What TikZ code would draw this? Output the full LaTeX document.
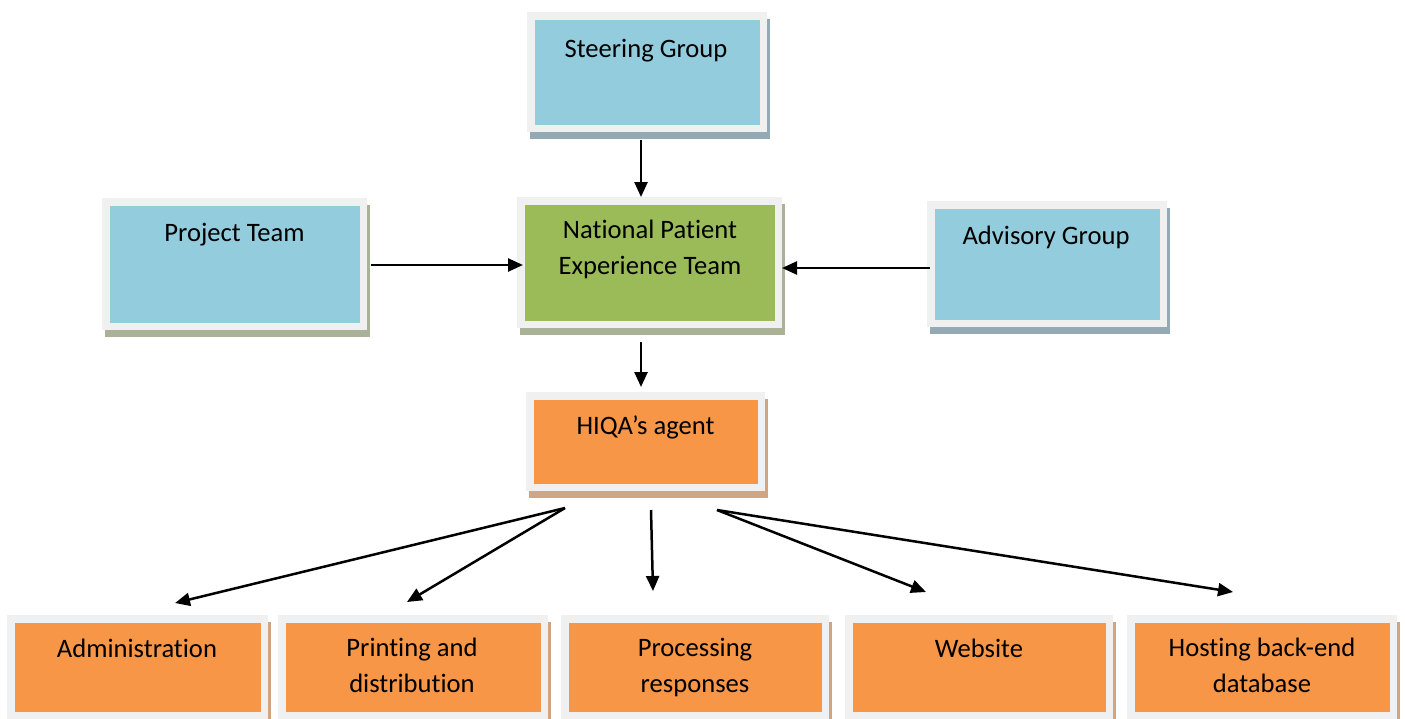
\documentclass[tikz,border=0pt]{standalone}
\usepackage{fontspec}
\setmainfont{Carlito}[Ligatures=NoCommon]
\usetikzlibrary{arrows.meta,shadows,calc}
\definecolor{frameC}{HTML}{F0F0F0}
\definecolor{blueC}{HTML}{93CDDD}
\definecolor{greenC}{HTML}{9BBB59}
\definecolor{orangeC}{HTML}{F79646}
\definecolor{shBlue}{HTML}{93AAB5}
\definecolor{shOlive}{HTML}{A9B196}
\definecolor{shTan}{HTML}{D2A582}
\begin{document}
\begin{tikzpicture}[x=1pt,y=-1pt,
  box/.style={rectangle, draw=frameC, line width=7.5pt, inner sep=0pt, outer sep=3.75pt},
  shd/.style={general shadow={draw=#1, fill=#1, line width=7.5pt, shadow xshift=3pt, shadow yshift=-7pt}},
  txt/.style={font=\fontsize{26.6}{35.5}\selectfont, inner sep=0pt, anchor=base, align=center, text=black},
  arr/.style={line width=2.5pt, -{Triangle[length=15pt,width=13pt]}}]
\useasboundingbox (0,0) rectangle (1405,718);
\clip (0,0) rectangle (1405,718);
\fill[white] (0,0) rectangle (1405,718);

% boxes
\node[box, fill=blueC, shd=shBlue, minimum width=232.5pt, minimum height=112.5pt] (st) at (647,72) {};
\node[box, fill=blueC, shd=shOlive, minimum width=257.5pt, minimum height=124.5pt] (pj) at (234.5,264) {};
\node[box, fill=greenC, shd=shOlive, minimum width=257.5pt, minimum height=123.5pt] (np) at (649.5,262.5) {};
\node[box, fill=blueC, shd=shBlue, minimum width=232.5pt, minimum height=118.5pt] (ad) at (1047,264) {};
\node[box, fill=orangeC, shd=shTan, minimum width=231.5pt, minimum height=91.5pt] (hq) at (645.5,441.5) {};
\node[box, fill=orangeC, shd=shTan, minimum width=253.5pt, minimum height=96.5pt] (ab) at (137.5,667) {};
\node[box, fill=orangeC, shd=shTan, minimum width=262.5pt, minimum height=96.5pt] (pr) at (413,667) {};
\node[box, fill=orangeC, shd=shTan, minimum width=260.5pt, minimum height=96.5pt] (pc) at (695,667) {};
\node[box, fill=orangeC, shd=shTan, minimum width=260.5pt, minimum height=96.5pt] (wb) at (979,667) {};
\node[box, fill=orangeC, shd=shTan, minimum width=262.5pt, minimum height=96.5pt] (hs) at (1262,667) {};

% texts (base anchor = baseline of the last line)
\node[txt] (stT) at (646,57) {Steering Group};
\node[txt] (pjT) at (234.5,241) {Project Team};
\node[txt] (npT) at (650,274) {National Patient\\Experience Team};
\node[txt] (adT) at (1046,244) {Advisory Group};
\node[txt] (hqT) at (645.5,434) {HIQA’s agent};
\node[txt] (abT) at (137,657) {Administration};
\node[txt] (prT) at (412,692) {Printing and\\distribution};
\node[txt] (pcT) at (695,692) {Processing\\responses};
\node[txt] (wbT) at (979,657) {Website};
\node[txt] (hsT) at (1262,692) {Hosting back-end\\database};

% connectors
\draw[arr] ([xshift=-6pt,yshift=-8pt]st.south) -- ([xshift=-8.5pt]np.north);
\draw[arr] ([xshift=4pt,yshift=-1pt]pj.east) -- ([xshift=6pt,yshift=-2.5pt]np.west);
\draw[arr] ([xshift=3pt,yshift=-4pt]ad.west) -- ([yshift=-5.5pt]np.east);
\draw[arr] ([xshift=-8.5pt,yshift=-14pt]np.south) -- ([xshift=-4.5pt,yshift=5pt]hq.north);
\draw[arr] ([xshift=-80.5pt,yshift=-17pt]hq.south) -- ([xshift=37.5pt,yshift=12pt]ab.north);
\draw[arr] ([xshift=-80.5pt,yshift=-17pt]hq.south) -- ([xshift=-6pt,yshift=13pt]pr.north);
\draw[arr] ([xshift=5.5pt,yshift=-19pt]hq.south) -- ([xshift=-42pt,yshift=24pt]pc.north);
\draw[arr] ([xshift=71.5pt,yshift=-19pt]hq.south) -- ([xshift=-53pt,yshift=23pt]wb.north);
\draw[arr] ([xshift=71.5pt,yshift=-19pt]hq.south) -- ([xshift=-29pt,yshift=23pt]hs.north);
\end{tikzpicture}
\end{document}
